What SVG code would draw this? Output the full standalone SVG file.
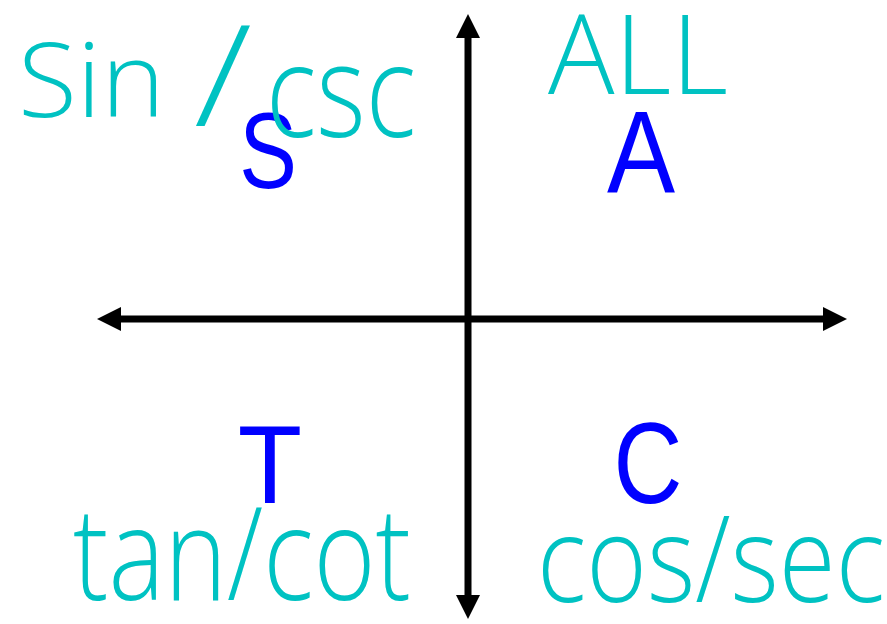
<svg xmlns="http://www.w3.org/2000/svg" width="887" height="624" viewBox="0 0 887 624">
<style>
.big{font-family:"Liberation Sans",Arial,sans-serif;fill:#0000FF;text-anchor:middle}
.hand{font-family:"Open Sans","Liberation Sans",sans-serif;font-weight:300;fill:#00C2C2}
.axis{stroke:#000;stroke-width:7;fill:none}
</style>
<defs>
<marker id="ah" viewBox="0 0 24 24" refX="0" refY="12" markerWidth="24" markerHeight="24" markerUnits="userSpaceOnUse" orient="auto-start-reverse">
<path d="M0,0 L24,12 L0,24 Z" fill="#000"/>
</marker>
</defs>
<rect width="887" height="624" fill="#fff"/>
<g id="axes">
<line class="axis" x1="468" y1="38" x2="468" y2="595" marker-start="url(#ah)" marker-end="url(#ah)"/>
<line class="axis" x1="121" y1="319" x2="823" y2="319" marker-start="url(#ah)" marker-end="url(#ah)"/>
</g>
<g id="q2">
<text class="big" font-size="108" transform="translate(268,188) scale(0.8,1)">S</text>
<text class="hand"><tspan x="18" y="117" font-size="104" textLength="147" lengthAdjust="spacingAndGlyphs">Sin</tspan><tspan x="194" y="126" font-size="140" textLength="58" lengthAdjust="spacingAndGlyphs">/</tspan><tspan x="266" y="137" font-size="130" textLength="150" lengthAdjust="spacingAndGlyphs">csc</tspan></text>
</g>
<g id="q1">
<text class="big" font-size="116" transform="translate(641,193) scale(0.88,1)">A</text>
<text class="hand" x="548" y="94" font-size="110" textLength="180" lengthAdjust="spacingAndGlyphs">ALL</text>
</g>
<g id="q3">
<text class="big" font-size="112" transform="translate(270,503) scale(0.94,1)">T</text>
<text class="hand" x="73" y="600" font-size="130" textLength="338" lengthAdjust="spacingAndGlyphs">tan/cot</text>
</g>
<g id="q4">
<text class="big" font-size="115" transform="translate(648,503) scale(0.83,1)">C</text>
<text class="hand" x="537" y="602" font-size="120" textLength="348" lengthAdjust="spacingAndGlyphs">cos/sec</text>
</g>
</svg>
